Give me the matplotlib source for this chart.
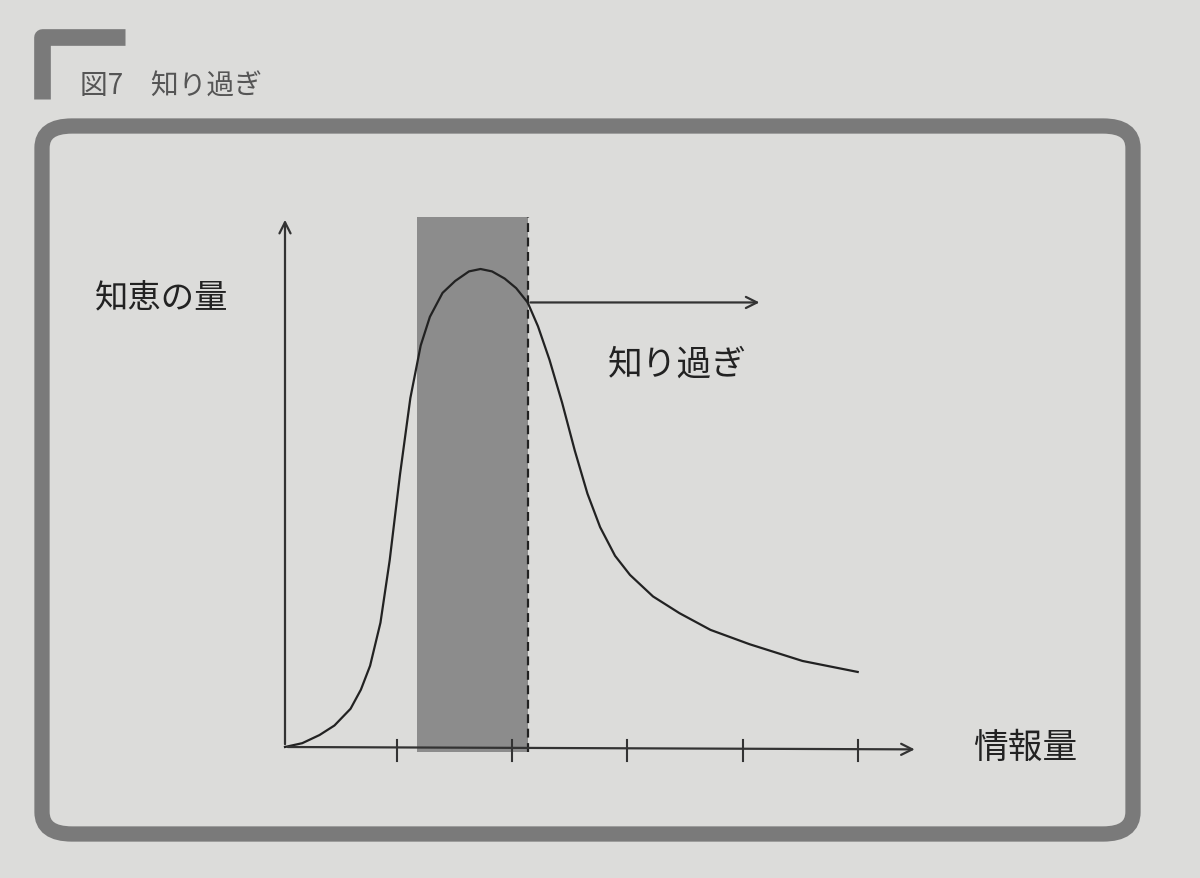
import matplotlib
matplotlib.use("Agg")
import matplotlib.pyplot as plt
from matplotlib.patches import FancyBboxPatch, Rectangle

plt.rcParams['font.family'] = ['Noto Sans CJK JP', 'DejaVu Sans']

title = "図7　知り過ぎ"
ylabel = "知恵の量"
xlabel = "情報量"
note = "知り過ぎ"
info = [0, 0.15, 0.30, 0.43, 0.57, 0.66, 0.74, 0.83, 0.91, 1.00, 1.09, 1.18, 1.26, 1.37, 1.48, 1.60, 1.70, 1.80, 1.91, 2.01, 2.11, 2.20, 2.30, 2.41, 2.52, 2.63, 2.74, 2.87, 3.00, 3.20, 3.43, 3.70, 4.04, 4.50, 4.98]
wisdom = [0, 0.008, 0.025, 0.045, 0.08, 0.12, 0.17, 0.26, 0.39, 0.57, 0.73, 0.84, 0.90, 0.95, 0.975, 0.995, 1.0, 0.995, 0.98, 0.96, 0.93, 0.88, 0.81, 0.72, 0.62, 0.53, 0.46, 0.40, 0.36, 0.315, 0.28, 0.245, 0.215, 0.18, 0.157]
ticks = [0.97, 1.97, 2.97, 3.98, 4.98]
band = (1.15, 2.11)

bg = "#dcdcda"
fig = plt.figure(figsize=(12, 8.79), dpi=100, facecolor=bg)
W, H = 1200, 879
fig.patches.append(FancyBboxPatch((42/W, 1-835/H), (1133-42)/W, (835-127)/H,
    boxstyle="round,pad=0,rounding_size=0.025", transform=fig.transFigure,
    fill=False, edgecolor="#7a7a7a", linewidth=11))
fig.lines.append(plt.Line2D([42/W, 42/W, 125/W], [1-100/H, 1-38/H, 1-38/H], transform=fig.transFigure,
    color="#7a7a7a", linewidth=12, solid_joinstyle="round", solid_capstyle="butt"))
fig.text(80/W, 1-87/H, title, fontsize=20, color="#555555", va="center")

ax = fig.add_axes([0, 0, 1, 1])
ax.set_facecolor("none")
ax.set_xlim(-285/115, (W-285)/115)
ax.set_ylim(-(H-748)/478, 748/478)
ax.axis("off")
top = (748-218)/478
ax.add_patch(Rectangle((band[0], -0.01), band[1]-band[0], top+0.01, color="#8c8c8c", lw=0))
ax.plot([band[1], band[1]], [-0.01, top], ls=(0, (4, 2.5)), color="#222222", lw=1.6)
ax.annotate("", xy=(0, top), xytext=(0, 0), arrowprops=dict(arrowstyle="->", lw=1.6, color="#333333", mutation_scale=20))
ax.annotate("", xy=(5.5, -0.005), xytext=(0, 0), arrowprops=dict(arrowstyle="->", lw=1.6, color="#333333", mutation_scale=20))
for t in ticks:
    ax.plot([t, t], [-0.03, 0.015], color="#333333", lw=1.5)
ax.plot(info, wisdom, color="#222222", lw=1.6, solid_joinstyle="round")
ax.annotate("", xy=(4.15, 0.93), xytext=(2.11, 0.93), arrowprops=dict(arrowstyle="->", lw=1.6, color="#333333", mutation_scale=20))
ax.text(-1.65, 0.94, ylabel, fontsize=24, color="#222222", va="center")
ax.text(2.81, 0.80, note, fontsize=25, color="#222222", va="center")
ax.text(5.98, 0.0, xlabel, fontsize=25, color="#222222", va="center")
fig.savefig("out.png", dpi=100, facecolor=bg)
